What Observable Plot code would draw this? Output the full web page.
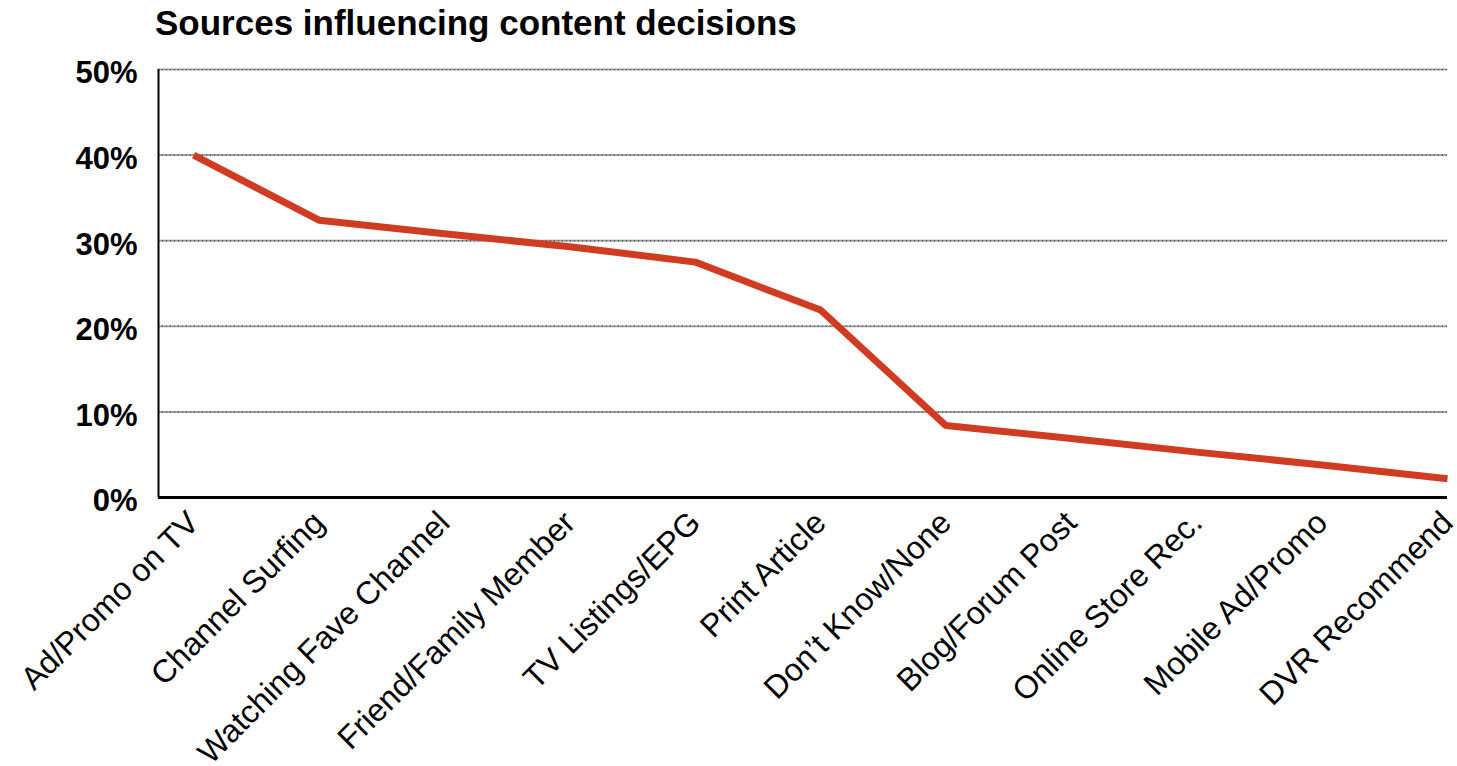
<!DOCTYPE html>
<html><head><meta charset="utf-8">
<script src="https://cdn.jsdelivr.net/npm/d3@7"></script>
<script src="https://cdn.jsdelivr.net/npm/@observablehq/plot@0.6"></script>
<style>
body{margin:0;background:#fff;font-family:"Liberation Sans",Arial,sans-serif;}
#title{position:relative;height:50px;}
#title span{position:absolute;left:155px;top:3px;font-size:35px;font-weight:bold;color:#000;white-space:nowrap;}
#chart svg{display:block;}
</style></head><body>
<div id="title"><span>Sources influencing content decisions</span></div>
<div id="chart"></div>
<script>
const categories = ["Ad/Promo on TV","Channel Surfing","Watching Fave Channel","Friend/Family Member","TV Listings/EPG","Print Article","Don\u2019t Know/None","Blog/Forum Post","Online Store Rec.","Mobile Ad/Promo","DVR Recommend"];
const values = [40, 32.4, 30.8, 29.3, 27.5, 21.9, 8.4, 6.9, 5.3, 3.8, 2.2];
const yTicks = [0, 10, 20, 30, 40, 50];
const xMin = -0.28;

const data = categories.map((c, i) => ({i, category: c, value: values[i]}));

const chart = Plot.plot({
  width: 1457, height: 716,
  marginLeft: 158, marginRight: 10, marginTop: 19, marginBottom: 269,
  style: {fontFamily: "'Liberation Sans', Arial, sans-serif", background: "#fff", color: "#000"},
  x: {type: "linear", domain: [xMin, categories.length - 1]},
  y: {domain: [0, 50]},
  marks: [
    Plot.ruleY(yTicks, {stroke: "#a0a0a0", strokeWidth: 2}),
    Plot.ruleY(yTicks, {stroke: "#333", strokeWidth: 1, strokeDasharray: "1,3"}),
    Plot.axisY(yTicks, {tickSize: 0, tickPadding: 21, fontSize: 31, fontWeight: "bold", tickFormat: d => d + "%", label: null, dy: 4}),
    Plot.axisX(d3.range(categories.length), {tickSize: 0, tickPadding: 20, tickRotate: -45, fontSize: 32, tickFormat: i => categories[i], label: null}),
    Plot.ruleX([xMin], {stroke: "#000", strokeWidth: 2}),
    Plot.ruleY([0], {stroke: "#000", strokeWidth: 3}),
    Plot.line(data, {x: "i", y: "value", stroke: "#d03c22", strokeWidth: 7, strokeLinejoin: "miter", strokeLinecap: "butt"})
  ]
});
document.getElementById("chart").appendChild(chart);
</script>
</body></html>
